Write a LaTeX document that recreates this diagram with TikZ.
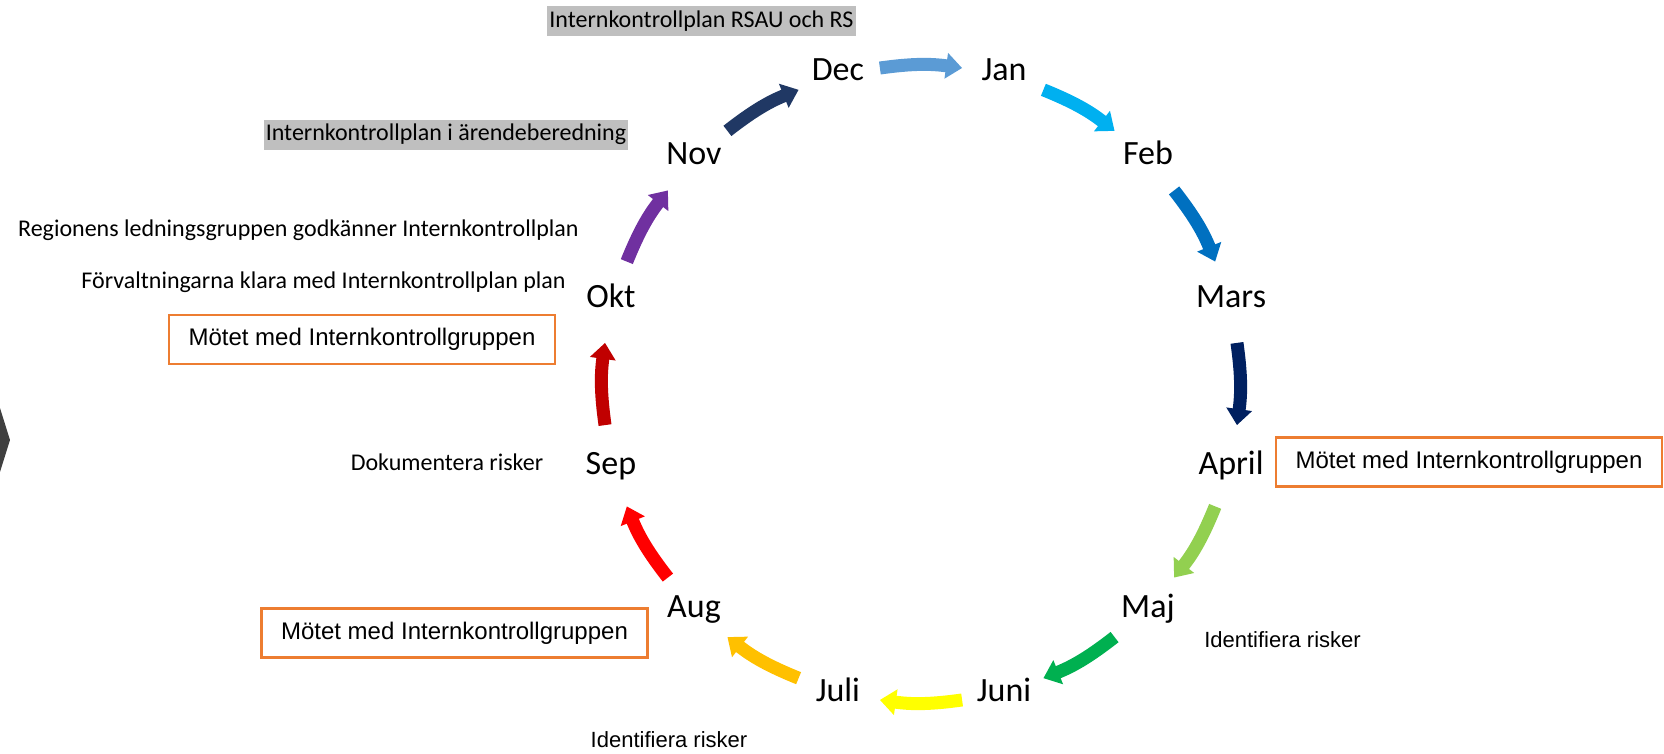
\documentclass[tikz,border=0pt]{standalone}
\usepackage{fontspec}
\setmainfont{Carlito}
\newfontfamily\arialfont{Liberation Sans}
\usetikzlibrary{arrows.meta}
\definecolor{arrNov}{HTML}{203864}
\definecolor{arrDec}{HTML}{5B9BD5}
\definecolor{arrJan}{HTML}{00B0F0}
\definecolor{arrFeb}{HTML}{0070C0}
\definecolor{arrMar}{HTML}{002060}
\definecolor{arrApr}{HTML}{92D050}
\definecolor{arrMaj}{HTML}{00B050}
\definecolor{arrJun}{HTML}{FFFF00}
\definecolor{arrJul}{HTML}{FFC000}
\definecolor{arrAug}{HTML}{FF0000}
\definecolor{arrSep}{HTML}{C00000}
\definecolor{arrOkt}{HTML}{7030A0}
\definecolor{planGray}{HTML}{BFBFBF}
\definecolor{meetOrange}{HTML}{ED7D31}
\definecolor{chevGray}{HTML}{404040}
\tikzset{
  monthnode/.style={circle, inner sep=0pt, minimum size=42pt,
                    font=\fontsize{17}{20}\selectfont, text height=0.8em, text depth=0.1em},
  cyclearr/.style={-{Triangle[length=8pt, width=12.5pt]}, line width=6.5pt},
  planbox/.style={fill=planGray, inner xsep=1pt, inner ysep=1.5pt,
                  font=\fontsize{12}{14}\selectfont, text height=9pt, text depth=3pt},
  notetext/.style={inner sep=0pt, font=\fontsize{12}{14}\selectfont,
                   text height=9pt, text depth=3pt},
  meetbox/.style={draw=meetOrange, line width=1.3pt, minimum width=193pt,
                  minimum height=24.5pt, inner sep=0pt,
                  font=\arialfont\fontsize{12}{14}\selectfont},
  risktext/.style={inner sep=0pt, font=\arialfont\fontsize{11}{13}\selectfont},
}
\begin{document}
\begin{tikzpicture}[x=0.5pt, y=0.5pt]
  \useasboundingbox (-921,-370) rectangle (743,384);

  % months round the year
  \foreach \name/\ang/\txt in {dec/105/Dec, jan/75/Jan, feb/45/Feb, mars/15/Mars,
      april/-15/April, maj/-45/Maj, juni/-75/Juni, juli/-105/Juli,
      aug/-135/Aug, sep/-165/Sep, okt/165/Okt, nov/135/Nov} {
    \node[monthnode] (\name) at (\ang:321) {\txt};
  }

  \foreach \a/\b/\col in {nov/dec/arrNov, dec/jan/arrDec, jan/feb/arrJan,
      feb/mars/arrFeb, mars/april/arrMar, april/maj/arrApr, maj/juni/arrMaj,
      juni/juli/arrJun, juli/aug/arrJul, aug/sep/arrAug, sep/okt/arrSep,
      okt/nov/arrOkt} {
    \draw[cyclearr, draw=\col] (\a) to[bend left=8] (\b);
  }

  % notes
  \node[planbox] (rsau) at (-219.5,362.5) {Internkontrollplan RSAU och RS};
  \node[planbox] (arende) at (-475,249) {Internkontrollplan i ärendeberedning};
  \node[notetext, anchor=east] (godkann) at (-342,153)
       {Regionens ledningsgruppen godkänner Internkontrollplan};
  \node[notetext, anchor=east] (klara) at (-355,101)
       {Förvaltningarna klara med Internkontrollplan plan};
  \node[meetbox] (meetokt) at (-559,44.5) {Mötet med Internkontrollgruppen};
  \node[notetext] (dokrisk) at (-474,-81) {Dokumentera risker};
  \node[meetbox] (meetaug) at (-466.5,-249) {Mötet med Internkontrollgruppen};
  \node[meetbox] (meetapr) at (548,-78) {Mötet med Internkontrollgruppen};
  \node[risktext] (riskmaj) at (361.5,-256) {Identifiera risker};
  \node[risktext] (riskjuli) at (-252,-356) {Identifiera risker};

  % edge of a shape cut by the frame
  \fill[chevGray] (-921,-24) -- (-911,-56) -- (-921,-88) -- cycle;
\end{tikzpicture}
\end{document}
